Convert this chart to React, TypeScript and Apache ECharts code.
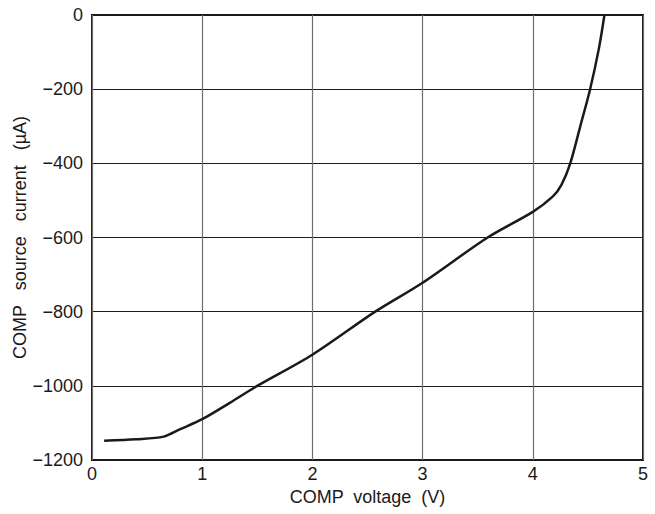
import React, { useEffect, useRef } from "react";
import * as echarts from "echarts";

const voltage = [0.11, 0.4, 0.65, 0.8, 1.0, 1.25, 1.5, 2.0, 2.57, 3.0, 3.59, 4.0, 4.18, 4.26, 4.34, 4.43, 4.52, 4.6, 4.65];
const current = [-1148, -1144, -1137, -1117, -1090, -1046, -1000, -916, -800, -722, -600, -531, -490, -458, -400, -301, -200, -90, 0];
const xTicks = [0, 1, 2, 3, 4, 5];
const yTicks = [-1200, -1000, -800, -600, -400, -200, 0];

export default function App() {
  const ref = useRef<HTMLDivElement>(null);
  useEffect(() => {
    if (!ref.current) return;
    const chart = echarts.init(ref.current, null, { renderer: "svg" });
    const font = "'Liberation Sans', Arial, sans-serif";
    chart.setOption({
      animation: false,
      backgroundColor: "#ffffff",
      grid: {
        left: 92,
        right: 12,
        top: 15,
        bottom: 54,
        outerBoundsMode: "none",
        containLabel: false,
        show: true,
        borderColor: "#1a1a1a",
        borderWidth: 2,
        backgroundColor: "transparent",
      },
      xAxis: {
        type: "value",
        min: xTicks[0],
        max: xTicks[xTicks.length - 1],
        interval: 1,
        name: "COMP  voltage  (V)",
        nameLocation: "middle",
        nameGap: 27,
        nameTextStyle: { fontFamily: font, fontSize: 18, color: "#1a1a1a" },
        axisLine: { show: false },
        axisTick: { show: false },
        axisLabel: {
          fontFamily: font,
          fontSize: 18,
          color: "#1a1a1a",
          margin: 5,
          formatter: (v: number) => String(v),
        },
        splitLine: { show: true, lineStyle: { color: "#6e6e6e", width: 1.2 } },
      },
      yAxis: {
        type: "value",
        min: yTicks[0],
        max: yTicks[yTicks.length - 1],
        interval: 200,
        name: "COMP   source   current   (µA)",
        nameLocation: "middle",
        nameGap: 63,
        nameMoveOverlap: false,
        nameRotate: 90,
        nameTextStyle: { fontFamily: font, fontSize: 18, color: "#1a1a1a" },
        axisLine: { show: false },
        axisTick: { show: false },
        axisLabel: {
          fontFamily: font,
          fontSize: 18,
          color: "#1a1a1a",
          margin: 9,
          formatter: (v: number) => (v < 0 ? "\u2212" + Math.abs(v) : String(v)),
        },
        splitLine: { show: true, lineStyle: { color: "#1a1a1a", width: 1 } },
      },
      series: [
        {
          type: "line",
          data: voltage.map((v, i) => [v, current[i]]),
          smooth: 0.3,
          showSymbol: false,
          lineStyle: { color: "#1a1a1a", width: 2.5 },
          z: 5,
        },
      ],
    });
    return () => chart.dispose();
  }, []);
  return (
    <div
      ref={ref}
      style={{ position: "fixed", left: 0, top: 0, width: 655, height: 514, background: "#fff" }}
    />
  );
}
